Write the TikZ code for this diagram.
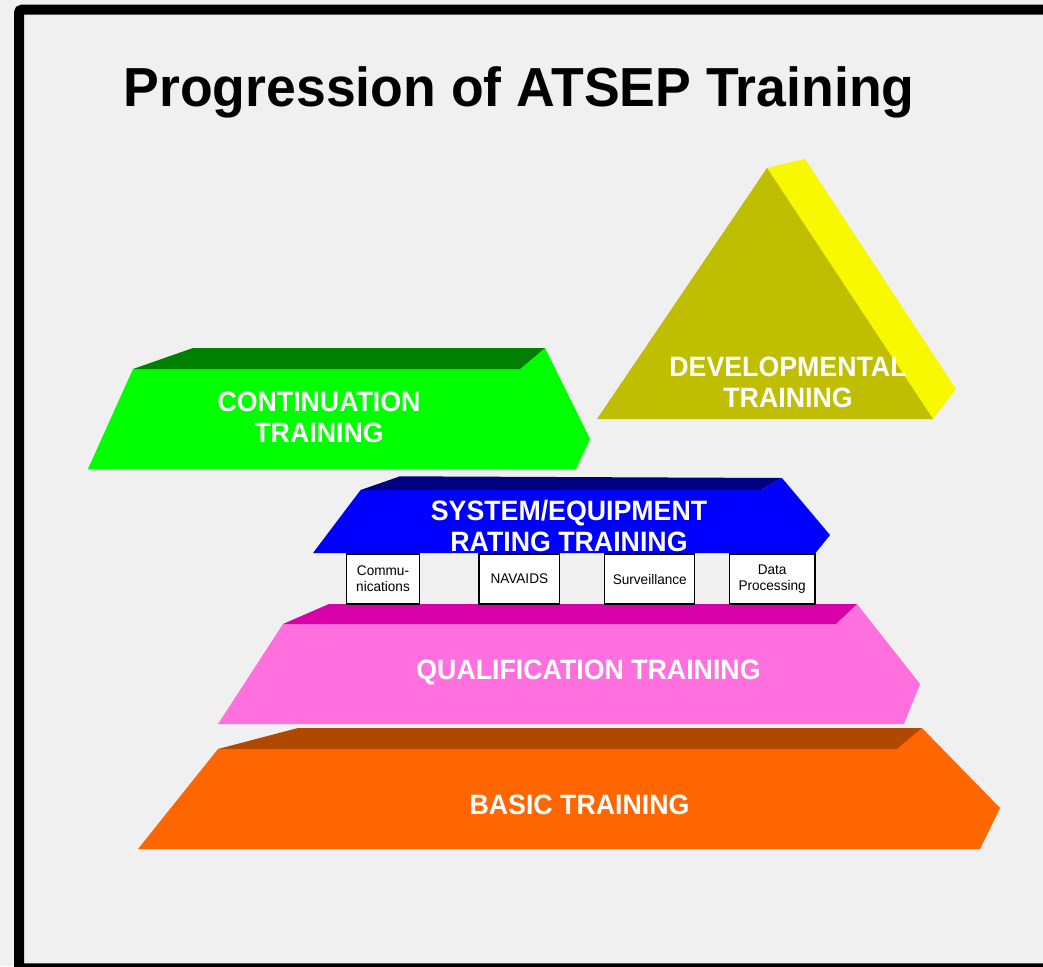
\documentclass[tikz,border=0pt]{standalone}
\usepackage{fontspec}
\setmainfont{Liberation Sans}
\newfontfamily\titlefont{Liberation Sans}[FakeStretch=0.974]
\newfontfamily\tierfont{Liberation Sans}[FakeStretch=0.955]
\newfontfamily\unitfont{Liberation Sans}[FakeStretch=0.97]
\definecolor{paper}{RGB}{239,240,239}
\definecolor{contfront}{RGB}{0,255,0}
\definecolor{conttop}{RGB}{0,128,0}
\definecolor{devfront}{RGB}{191,190,0}
\definecolor{devside}{RGB}{248,248,0}
\definecolor{sysfront}{RGB}{0,0,255}
\definecolor{systop}{RGB}{0,0,128}
\definecolor{qualfront}{RGB}{255,112,222}
\definecolor{qualtop}{RGB}{216,0,168}
\definecolor{basicfront}{RGB}{255,102,0}
\definecolor{basictop}{RGB}{176,72,0}
\begin{document}
\begin{tikzpicture}[x=1pt,y=-1pt,
    tier/.style={text=white,align=center,font=\tierfont\bfseries\fontsize{28}{31}\selectfont},
    unitbox/.style={draw=black,fill=white,line width=1.3pt,minimum height=50pt,
        inner sep=0pt,align=center,font=\unitfont\fontsize{14}{16}\selectfont}]
    \useasboundingbox (0,0) rectangle (1043,966);
    \fill[paper] (0,0) rectangle (1043,966);
    \begin{scope}
    \clip (0,0) rectangle (1043,966);
    \draw[line width=10pt,rounded corners=3pt] (19,9.7) rectangle (1080,968.3);
    \end{scope}
    \node[font=\titlefont\bfseries\fontsize{55}{60}\selectfont,anchor=base] (title) at (519,106) {Progression of ATSEP Training};
    % basic
    \fill[basicfront] (218,749) -- (897,749) -- (922,728) -- (1000,808) -- (980,849) -- (138,849) -- cycle;
    \fill[basictop] (218,749) -- (298,728) -- (922,728) -- (897,749) -- cycle;
    \node[tier,anchor=base] (basic) at (579.5,814) {BASIC TRAINING};
    % qualification
    \fill[qualfront] (283,624) -- (836,624) -- (857,604) -- (920,684) -- (904,724) -- (218,724) -- cycle;
    \fill[qualtop] (283,624) -- (329,604) -- (857,604) -- (836,624) -- cycle;
    \node[tier,anchor=base] (qual) at (588.5,679.3) {QUALIFICATION TRAINING};
    % rating units
    \foreach \cx/\w/\name/\txt in {383/73/comm/{Commu-\\nications},519.3/80.5/navaids/{NAVAIDS},%
        649.8/90/surv/{Surveillance},772.1/85.8/data/{Data\\Processing}}
    {
    \node[unitbox,minimum width=\w pt] (\name) at (\cx,579) {\txt};
    }
    % system / equipment
    \fill[sysfront] (360.6,490) -- (761,490) -- (782,478) -- (830,535) -- (815.5,553) -- (313,553) -- cycle;
    \fill[systop] (360.6,490) -- (400,476.3) -- (782,478) -- (761,490) -- cycle;
    \node[tier] (sys) at (569,526) {SYSTEM/EQUIPMENT\\RATING TRAINING};
    % continuation
    \fill[contfront] (133,369) -- (520,369) -- (545,348) -- (590,439) -- (576,469) -- (88,469) -- cycle;
    \fill[conttop] (133,369) -- (193,348) -- (545,348) -- (520,369) -- cycle;
    \node[tier] (cont) at (319,417.5) {CONTINUATION\\TRAINING};
    % developmental
    \fill[devside] (767,168) -- (805,159) -- (956,389) -- (933,419) -- cycle;
    \fill[devfront] (597,419) -- (767,168) -- (933,419) -- cycle;
    \node[tier] (dev) at (788,382.5) {DEVELOPMENTAL\\TRAINING};
\end{tikzpicture}
\end{document}
